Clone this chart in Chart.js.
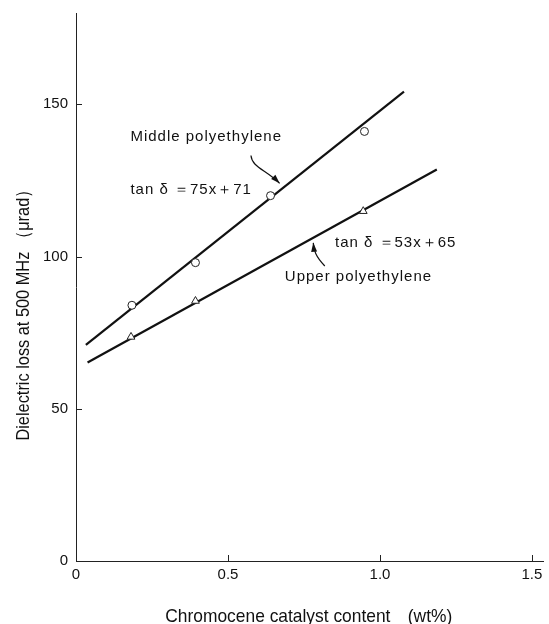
<!DOCTYPE html>
<html><head><meta charset="utf-8">
<script src="https://cdn.jsdelivr.net/npm/chart.js@4"></script>
<style>html,body{margin:0;padding:0;background:#fff;}#wrap{width:549px;height:624px;position:relative;}</style>
</head><body><div id="wrap"><canvas id="c" width="549" height="624"></canvas></div>
<script>
// ---- data ----
const middleX = [0.184, 0.393, 0.640, 0.949];
const middleY = [84.0, 98.0, 120.0, 141.1];
const upperX = [0.181, 0.393, 0.945];
const upperY = [73.6, 85.4, 114.9];
const middleFitX = [0.0325, 1.079];
const middleFitY = [71.0, 154.2];
const upperFitX = [0.038, 1.187];
const upperFitY = [65.2, 128.6];
const xTickValues = [0, 0.5, 1.0, 1.5];
const xTickLabels = ['0', '0.5', '1.0', '1.5'];
const yTickValues = [0, 50, 100, 150];
const yTickLabels = ['0', '50', '100', '150'];
const xTitle = 'Chromocene catalyst content\u3000(wt%)';
const yTitle = 'Dielectric loss at 500 MHz \uFF08\u03BCrad\uFF09';
const noteTexts = ['Middle polyethylene', 'tan \u03B4 \uFF1D75x\uFF0B71', 'tan \u03B4 \uFF1D53x\uFF0B65', 'Upper polyethylene'];

// ---- layout / style (data units for anchor positions) ----
const FONT = '"Liberation Sans", Arial, sans-serif';
const INK = '#111';
const noteAnchors = [[0.179, 137.8], [0.179, 120.5], [0.852, 103.2], [0.687, 91.9]];
const arrowPaths = [
  [[0.5756, 133.2], [0.5789, 129.3], [0.6244, 128.6], [0.6699, 124.06]],
  [[0.8185, 96.9], [0.787, 100.2], [0.783, 102.0], [0.7805, 104.5]]
];

const pts = (xs, ys) => xs.map((x, i) => ({x: x, y: ys[i]}));

const decor = {
  id: 'decor',
  afterDatasetsDraw(chart) {
    const {ctx, chartArea: a, scales: {x, y}} = chart;
    ctx.save();
    ctx.strokeStyle = '#222';
    ctx.lineWidth = 1;
    xTickValues.forEach(v => { if (v === 0) return; const px = Math.round(x.getPixelForValue(v)) + 0.5;
      ctx.beginPath(); ctx.moveTo(px, a.bottom); ctx.lineTo(px, a.bottom - 6); ctx.stroke(); });
    yTickValues.forEach(v => { if (v === 0) return; const py = Math.round(y.getPixelForValue(v)) + 0.5;
      ctx.beginPath(); ctx.moveTo(a.left, py); ctx.lineTo(a.left + 6, py); ctx.stroke(); });
    ctx.fillStyle = INK;
    ctx.font = '15px ' + FONT;
    ctx.textBaseline = 'alphabetic';
    ctx.textAlign = 'left';
    ctx.letterSpacing = '1px';
    noteTexts.forEach((t, i) => {
      ctx.fillText(t, x.getPixelForValue(noteAnchors[i][0]), y.getPixelForValue(noteAnchors[i][1]));
    });
    ctx.letterSpacing = '0px';
    ctx.lineWidth = 1.2;
    ctx.strokeStyle = INK;
    arrowPaths.forEach(p => {
      const q = p.map(c => [x.getPixelForValue(c[0]), y.getPixelForValue(c[1])]);
      ctx.beginPath(); ctx.moveTo(q[0][0], q[0][1]);
      ctx.bezierCurveTo(q[1][0], q[1][1], q[2][0], q[2][1], q[3][0], q[3][1]);
      ctx.stroke();
      const ang = Math.atan2(q[3][1] - q[2][1], q[3][0] - q[2][0]);
      const L = 9, W = 3;
      ctx.beginPath();
      ctx.moveTo(q[3][0], q[3][1]);
      ctx.lineTo(q[3][0] - L * Math.cos(ang) + W * Math.sin(ang), q[3][1] - L * Math.sin(ang) - W * Math.cos(ang));
      ctx.lineTo(q[3][0] - L * Math.cos(ang) - W * Math.sin(ang), q[3][1] - L * Math.sin(ang) + W * Math.cos(ang));
      ctx.closePath(); ctx.fill();
    });
    ctx.font = '19px ' + FONT;
    ctx.textAlign = 'center';
    ctx.textBaseline = 'alphabetic';
    ctx.save();
    ctx.translate((a.left + a.right) / 2 - 1, a.bottom + 60.5);
    ctx.scale(0.915, 1);
    ctx.fillText(xTitle, 0, 0);
    ctx.restore();
    ctx.save();
    ctx.translate(29, (a.top + a.bottom) / 2 + 24);
    ctx.rotate(-Math.PI / 2);
    ctx.scale(0.86, 1);
    ctx.fillText(yTitle, 0, 0);
    ctx.restore();
    ctx.restore();
  }
};

new Chart(document.getElementById('c'), {
  type: 'scatter',
  data: {
    datasets: [
      {data: pts(middleX, middleY), pointStyle: 'circle', pointRadius: 4, pointBackgroundColor: '#fff', pointBorderColor: '#222', pointBorderWidth: 1, showLine: false, order: 0},
      {data: pts(upperX, upperY), pointStyle: 'triangle', pointRadius: 4.5, pointBackgroundColor: '#fff', pointBorderColor: '#222', pointBorderWidth: 1, showLine: false, order: 0},
      {data: pts(middleFitX, middleFitY), showLine: true, pointRadius: 0, borderColor: INK, borderWidth: 2.2, order: 1},
      {data: pts(upperFitX, upperFitY), showLine: true, pointRadius: 0, borderColor: INK, borderWidth: 2.2, order: 1}
    ]
  },
  options: {
    responsive: false,
    animation: false,
    devicePixelRatio: 1,
    layout: {padding: {top: 13, left: 0, right: 0, bottom: 0}},
    plugins: {legend: {display: false}, tooltip: {enabled: false}},
    scales: {
      x: {
        type: 'linear', min: 0, max: 1.538,
        grid: {display: false, drawTicks: false},
        border: {display: true, color: '#222', width: 1},
        afterBuildTicks: s => { s.ticks = xTickValues.map(v => ({value: v})); },
        ticks: {font: {size: 15, family: FONT}, color: INK, padding: 5, maxRotation: 0,
                callback: v => xTickLabels[xTickValues.indexOf(v)]},
        afterFit: s => { s.height = 63; s.paddingLeft = 0; s.paddingRight = 0; }
      },
      y: {
        type: 'linear', min: 0, max: 180,
        grid: {display: false, drawTicks: false},
        border: {display: true, color: '#222', width: 1},
        afterBuildTicks: s => { s.ticks = yTickValues.map(v => ({value: v})); },
        ticks: {font: {size: 15, family: FONT}, color: INK, padding: 8,
                callback: v => yTickLabels[yTickValues.indexOf(v)]},
        afterFit: s => { s.width = 76; s.paddingTop = 0; s.paddingBottom = 0; }
      }
    }
  },
  plugins: [decor]
});
</script></body></html>
